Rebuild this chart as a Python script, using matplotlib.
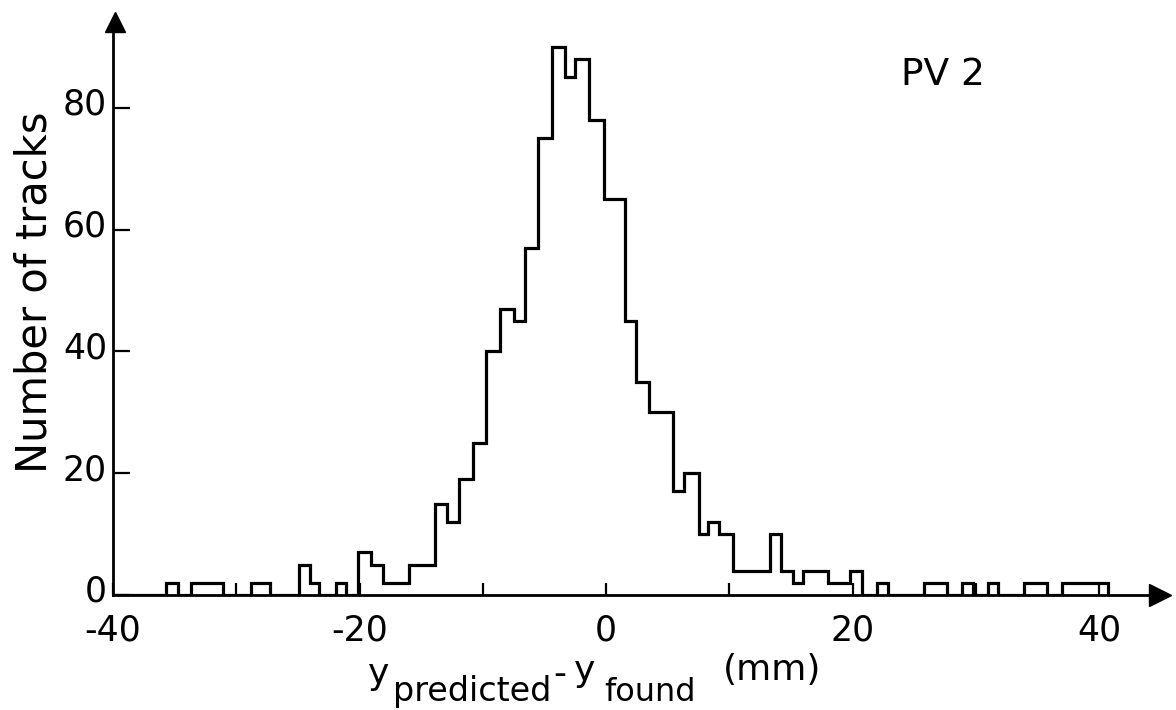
import matplotlib
matplotlib.use("Agg")
import matplotlib.pyplot as plt
import matplotlib.transforms as mtransforms

plt.rcParams['font.family'] = ['DejaVu Sans']
plt.rcParams['axes.unicode_minus'] = False

# Histogram bin edges (mm) and counts per bin
bin_edges = [-39.8, -35.7, -34.7, -33.7, -31.1, -28.8, -27.3, -24.9, -24.0, -23.3,
             -21.9, -21.1, -20.1, -19.1, -18.1, -16.0, -13.9, -12.9, -11.9, -10.8,
             -9.7, -8.6, -7.5, -6.6, -5.5, -4.4, -3.3, -2.5, -1.4, -0.2,
             1.5, 2.4, 3.5, 5.4, 6.3, 7.5, 8.3, 9.2, 10.3, 13.3,
             14.2, 15.2, 16.0, 18.0, 19.8, 20.8, 22.0, 22.9, 25.8, 27.7,
             28.9, 29.8, 31.0, 31.8, 33.9, 35.8, 37.0, 40.7]
counts = [0, 2, 0, 2, 0, 2, 0, 5, 2, 0,
          2, 0, 7, 5, 2, 5, 15, 12, 19, 25,
          40, 47, 45, 57, 75, 90, 85, 88, 78, 65,
          45, 35, 30, 17, 20, 10, 12, 10, 4, 10,
          4, 2, 4, 2, 4, 0, 2, 0, 2, 0,
          2, 0, 2, 0, 2, 0, 2]

x_ticks = [-40, -30, -20, -10, 0, 10, 20, 30, 40]
x_tick_labels = ['-40', '', '-20', '', '0', '', '20', '', '40']
y_ticks = [0, 20, 40, 60, 80]
y_tick_labels = ['0', '20', '40', '60', '80']

W, H = 1176, 710
fig = plt.figure(figsize=(W / 100, H / 100), dpi=100)
ax = fig.add_axes([113 / W, 115 / H, 1047 / W, 573 / H])

ax.stairs(counts, bin_edges, color='black', linewidth=2.3, baseline=0)

ax.set_xlim(-39.85, 44.94)
ax.set_ylim(0, 94.1)

for side in ('top', 'right'):
    ax.spines[side].set_visible(False)
for side in ('left', 'bottom'):
    ax.spines[side].set_linewidth(2.0)
    ax.spines[side].set_color('black')

ax.set_xticks(x_ticks)
ax.set_xticklabels(x_tick_labels)
ax.set_yticks(y_ticks)
ax.set_yticklabels([])
ax.tick_params(axis='x', direction='in', length=9, width=1.6, pad=13, labelsize=25)
ax.tick_params(axis='y', direction='in', length=12, width=1.6, labelleft=False)

# y tick labels drawn next to the axis, nudged up slightly as in the original
ytrans = mtransforms.blended_transform_factory(ax.transAxes, ax.transData)
ytrans = ytrans + mtransforms.ScaledTranslation(-6 / 100, 3 / 100, fig.dpi_scale_trans)
for val, lab in zip(y_ticks, y_tick_labels):
    ax.text(0, val, lab, transform=ytrans, ha='right', va='center', fontsize=25)

# Arrow heads at the ends of the axes
ax.plot(1.0, 0, marker='>', color='black', markersize=16,
        transform=ax.get_yaxis_transform(), clip_on=False)
ax.plot(-39.85, 1.0, marker='^', color='black', markersize=14,
        transform=ax.get_xaxis_transform(), clip_on=False)

def ftext(px, py, s, size, **kw):
    fig.text(px / W, 1 - py / H, s, fontsize=size, **kw)

ftext(35, 292, 'Number of tracks', 30, rotation=90, ha='center', va='center')

# x-axis label built from pieces: y_predicted - y_found   (mm)
ftext(368, 684, 'y', 26, ha='left', va='baseline')
ftext(393, 701, 'predicted', 24, ha='left', va='baseline')
ftext(553, 684, '-', 26, ha='left', va='baseline')
ftext(574, 681, 'y', 26, ha='left', va='baseline')
ftext(604, 701, 'found', 23, ha='left', va='baseline')
ftext(772, 670, '(mm)', 26, ha='center', va='center')

ftext(943, 75, 'PV 2', 27, ha='center', va='center')

fig.savefig('out.png', dpi=100, facecolor='white')
